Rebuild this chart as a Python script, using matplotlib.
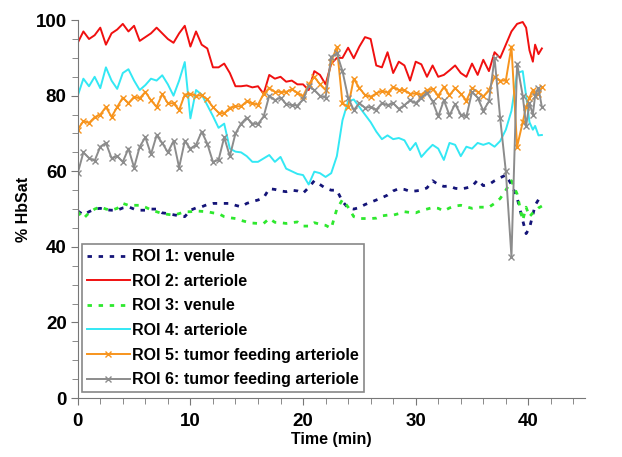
import matplotlib
matplotlib.use("Agg")
import matplotlib.pyplot as plt
from matplotlib.ticker import MultipleLocator

plt.rcParams["font.family"] = ["Liberation Sans", "DejaVu Sans"]
plt.rcParams["font.weight"] = "bold"

# time (min), about every 0.5 min; the last few samples are closer together
times = [0, 0.5, 1, 1.5, 2, 2.5, 3, 3.5, 4, 4.5, 5, 5.5, 6, 6.5, 7, 7.5, 8, 8.5, 9, 9.5,
         10, 10.5, 11, 11.5, 12, 12.5, 13, 13.5, 14, 14.5, 15, 15.5, 16, 16.5, 17, 17.5, 18, 18.5, 19, 19.5,
         20, 20.5, 21, 21.5, 22, 22.5, 23, 23.5, 24, 24.5, 25, 25.5, 26, 26.5, 27, 27.5, 28, 28.5, 29, 29.5,
         30, 30.5, 31, 31.5, 32, 32.5, 33, 33.5, 34, 34.5, 35, 35.5, 36, 36.5, 37, 37.5, 38, 38.5, 39, 39.5,
         39.8, 40.1, 40.4, 40.6, 40.9, 41.2]

roi1_venule = [49.5, 48.5, 49.3, 50, 50.2, 49.8, 49.7, 49.7, 50.3, 50.6,
               50, 49.7, 49.7, 50, 50, 49, 48.8, 48.5, 48.2, 48,
               49.7, 50.3, 50.6, 51.2, 51.5, 51.5, 51.5, 51.5, 51, 50.6,
               51.5, 52, 52.4, 53, 55.4, 55.2, 54.8, 54.6, 55, 54.8,
               54.2, 55.7, 57.5, 56.5, 55.5, 55, 55, 52, 50.3, 50,
               50.4, 51.2, 51.8, 52.4, 53, 53.7, 54.8, 55.4, 55.2, 54.7,
               54.8, 55, 55.6, 57.5, 56.5, 56, 56.1, 55.5, 55.3, 55.6,
               56, 57.7, 56.2, 56.5, 57.5, 58.3, 59, 56.5, 53, 47,
               43.5, 45, 48.5, 51, 52.5, 53.8]

roi2_arteriole = [94, 97, 95, 96, 98, 93.5, 96.5, 97.5, 99, 97,
                  98.5, 94.5, 95.5, 96.5, 98, 96.5, 95, 94, 96.5, 98.5,
                  93, 97, 93.5, 92.5, 87.5, 87.5, 88.5, 86, 82.5, 82.5,
                  82.7, 82.2, 82.5, 80.5, 85.5, 84.5, 85, 83.7, 84, 83,
                  83, 81.5, 86.5, 85.5, 83, 88.5, 90, 90, 92.7, 89.9,
                  93, 95.5, 95, 88, 87.5, 91.5, 86, 89, 88, 84,
                  89, 88.3, 85, 88, 85, 85.5, 86.7, 88, 86, 85,
                  88.5, 85.5, 89.5, 86.5, 91.5, 90, 93.5, 97, 99, 99.5,
                  98, 92, 89, 93.5, 91, 92.5]

roi3_venule = [49.3, 47.5, 49, 50, 50.6, 50, 49.7, 50.2, 51.5, 51,
               51, 51, 50.5, 49.8, 49.3, 48.8, 48.6, 48.4, 48.8, 49.3,
               49.3, 49.5, 49.4, 49.3, 49, 48.8, 48, 47.7, 47.5, 47,
               46.6, 46.3, 46.2, 46.2, 47.5, 46.5, 46.4, 46.2, 46.4, 46.6,
               45.5, 45.5, 46.4, 46, 45.7, 44.9, 50, 52.5, 50.5, 48,
               47.5, 47.5, 47.5, 47.6, 48.2, 48.4, 48.4, 48.8, 49.3, 49.1,
               49, 49.6, 50, 50.4, 50.2, 49.5, 50.3, 50.8, 51, 50.6,
               50.2, 50.5, 50.5, 50.5, 51.5, 52.8, 55, 57.5, 54, 47,
               50.5, 48, 49, 49.5, 50.3, 50.8]

roi4_arteriole = [80, 84.5, 82.5, 85, 82, 87.5, 84, 81.8, 86, 87,
                  84, 81.5, 82.8, 84.5, 84, 85.4, 83, 80, 84, 88.9,
                  74, 81.5, 80.3, 77.5, 74.6, 71.5, 72.6, 66, 65.2, 65,
                  64, 62.5, 62.5, 63.4, 64.3, 62.5, 63.8, 60.7, 60, 59.3,
                  59, 56.5, 59.9, 59.5, 58.5, 59.5, 64, 73.5, 78.5, 79,
                  77, 75, 73, 70.5, 68.5, 69.5, 68.5, 68.8, 68.2, 65.6,
                  67.5, 63.8, 65.5, 67, 66, 63, 67.5, 67, 64, 66.5,
                  66, 67.5, 67, 67.5, 66.5, 68, 71, 76, 86, 86.5,
                  80, 73, 71, 72, 69.5, 69.6]

roi5_tumor = [71, 73.3, 72.8, 74.3, 75, 77, 74.4, 77, 79.5, 78,
              79.7, 79.3, 81, 78.8, 77, 80.4, 78, 78, 76.2, 80.3,
              80.5, 80, 80.1, 79, 77, 75.5, 75.3, 76.8, 77.2, 77.2,
              78.5, 78, 77.6, 80.5, 82, 81, 81, 81, 81.7, 80.8,
              79.8, 83, 85, 83, 81.5, 89, 92.9, 78, 77, 84.5,
              82, 80.2, 79.7, 80.6, 81.3, 80.8, 82.3, 81.5, 81.5, 80.5,
              80.6, 80.3, 81.5, 81.8, 80, 82.3, 80.1, 82, 80.5, 78.7,
              82, 81, 79.8, 81.5, 85, 84, 84, 93, 66.5, 73,
              77, 79.5, 81.5, 80, 80.5, 82.2]

roi6_tumor = [59.5, 65, 63.5, 62.8, 66.5, 67.5, 63.5, 64, 62.5, 66,
              61, 66.5, 69, 64.5, 69.5, 67.5, 65, 68, 61, 68,
              66, 67, 70.5, 67.3, 62.5, 63, 69, 64, 70, 72.6,
              74.2, 72.6, 72.5, 74.5, 80, 78.8, 79.5, 77.8, 77.5, 77.4,
              79, 82.5, 81.5, 80, 79.5, 90.3, 91.2, 86.5, 79.5, 76.2,
              78, 76.8, 77, 76.3, 78, 77.5, 78, 76.5, 77.5, 78.8,
              78, 79.5, 80.8, 78.5, 74.5, 78.8, 74.8, 77.8, 75, 74.5,
              81, 79.5, 76, 78.5, 90, 74, 60, 37.4, 88.5, 80,
              72, 78, 75, 80, 82, 77]

fig = plt.figure(figsize=(6.22, 4.57), dpi=100)
ax = fig.add_axes([0.125, 0.129, 0.815, 0.827])

ax.plot(times, roi1_venule, color="#141478", lw=2.0, ls=(0, (1.6, 2.4)), label="ROI 1: venule")
ax.plot(times, roi2_arteriole, color="#f01010", lw=1.4, label="ROI 2: arteriole")
ax.plot(times, roi3_venule, color="#2ee82e", lw=2.0, ls=(0, (1.6, 2.4)), label="ROI 3: venule")
ax.plot(times, roi4_arteriole, color="#33e8f4", lw=1.4, label="ROI 4: arteriole")
ax.plot(times, roi5_tumor, color="#f7941d", lw=1.4, marker="x", ms=4.5, mew=1.0,
        label="ROI 5: tumor feeding arteriole")
ax.plot(times, roi6_tumor, color="#8c8c8c", lw=1.4, marker="x", ms=4.5, mew=1.0,
        label="ROI 6: tumor feeding arteriole")

ax.set_xlim(0, 45)
ax.set_ylim(0, 100)
ax.xaxis.set_major_locator(MultipleLocator(10))
ax.xaxis.set_minor_locator(MultipleLocator(2))
ax.yaxis.set_major_locator(MultipleLocator(20))
ax.yaxis.set_minor_locator(MultipleLocator(5))
ax.tick_params(which="both", direction="out", color="#777777", labelsize=13.5)
ax.tick_params(axis="y", pad=3)
ax.tick_params(axis="x", pad=6)
ax.tick_params(which="major", length=5)
ax.tick_params(which="minor", length=4)
for s in ("top", "right"):
    ax.spines[s].set_visible(False)
for s in ("left", "bottom"):
    ax.spines[s].set_color("#777777")

ax.set_xlabel("Time (min)", fontsize=11.5, fontweight="bold", labelpad=1)
ax.set_ylabel("% HbSat", fontsize=11.5, fontweight="bold", labelpad=3)

leg = ax.legend(loc="lower left", bbox_to_anchor=(0.008, 0.016), fontsize=11.5,
                frameon=True, fancybox=False, edgecolor="#888888", framealpha=1,
                handlelength=2.7, handletextpad=0.15, labelspacing=0.6, borderpad=0.3,
                borderaxespad=0)
leg.get_frame().set_linewidth(1.2)

fig.savefig("out.png", dpi=100)
